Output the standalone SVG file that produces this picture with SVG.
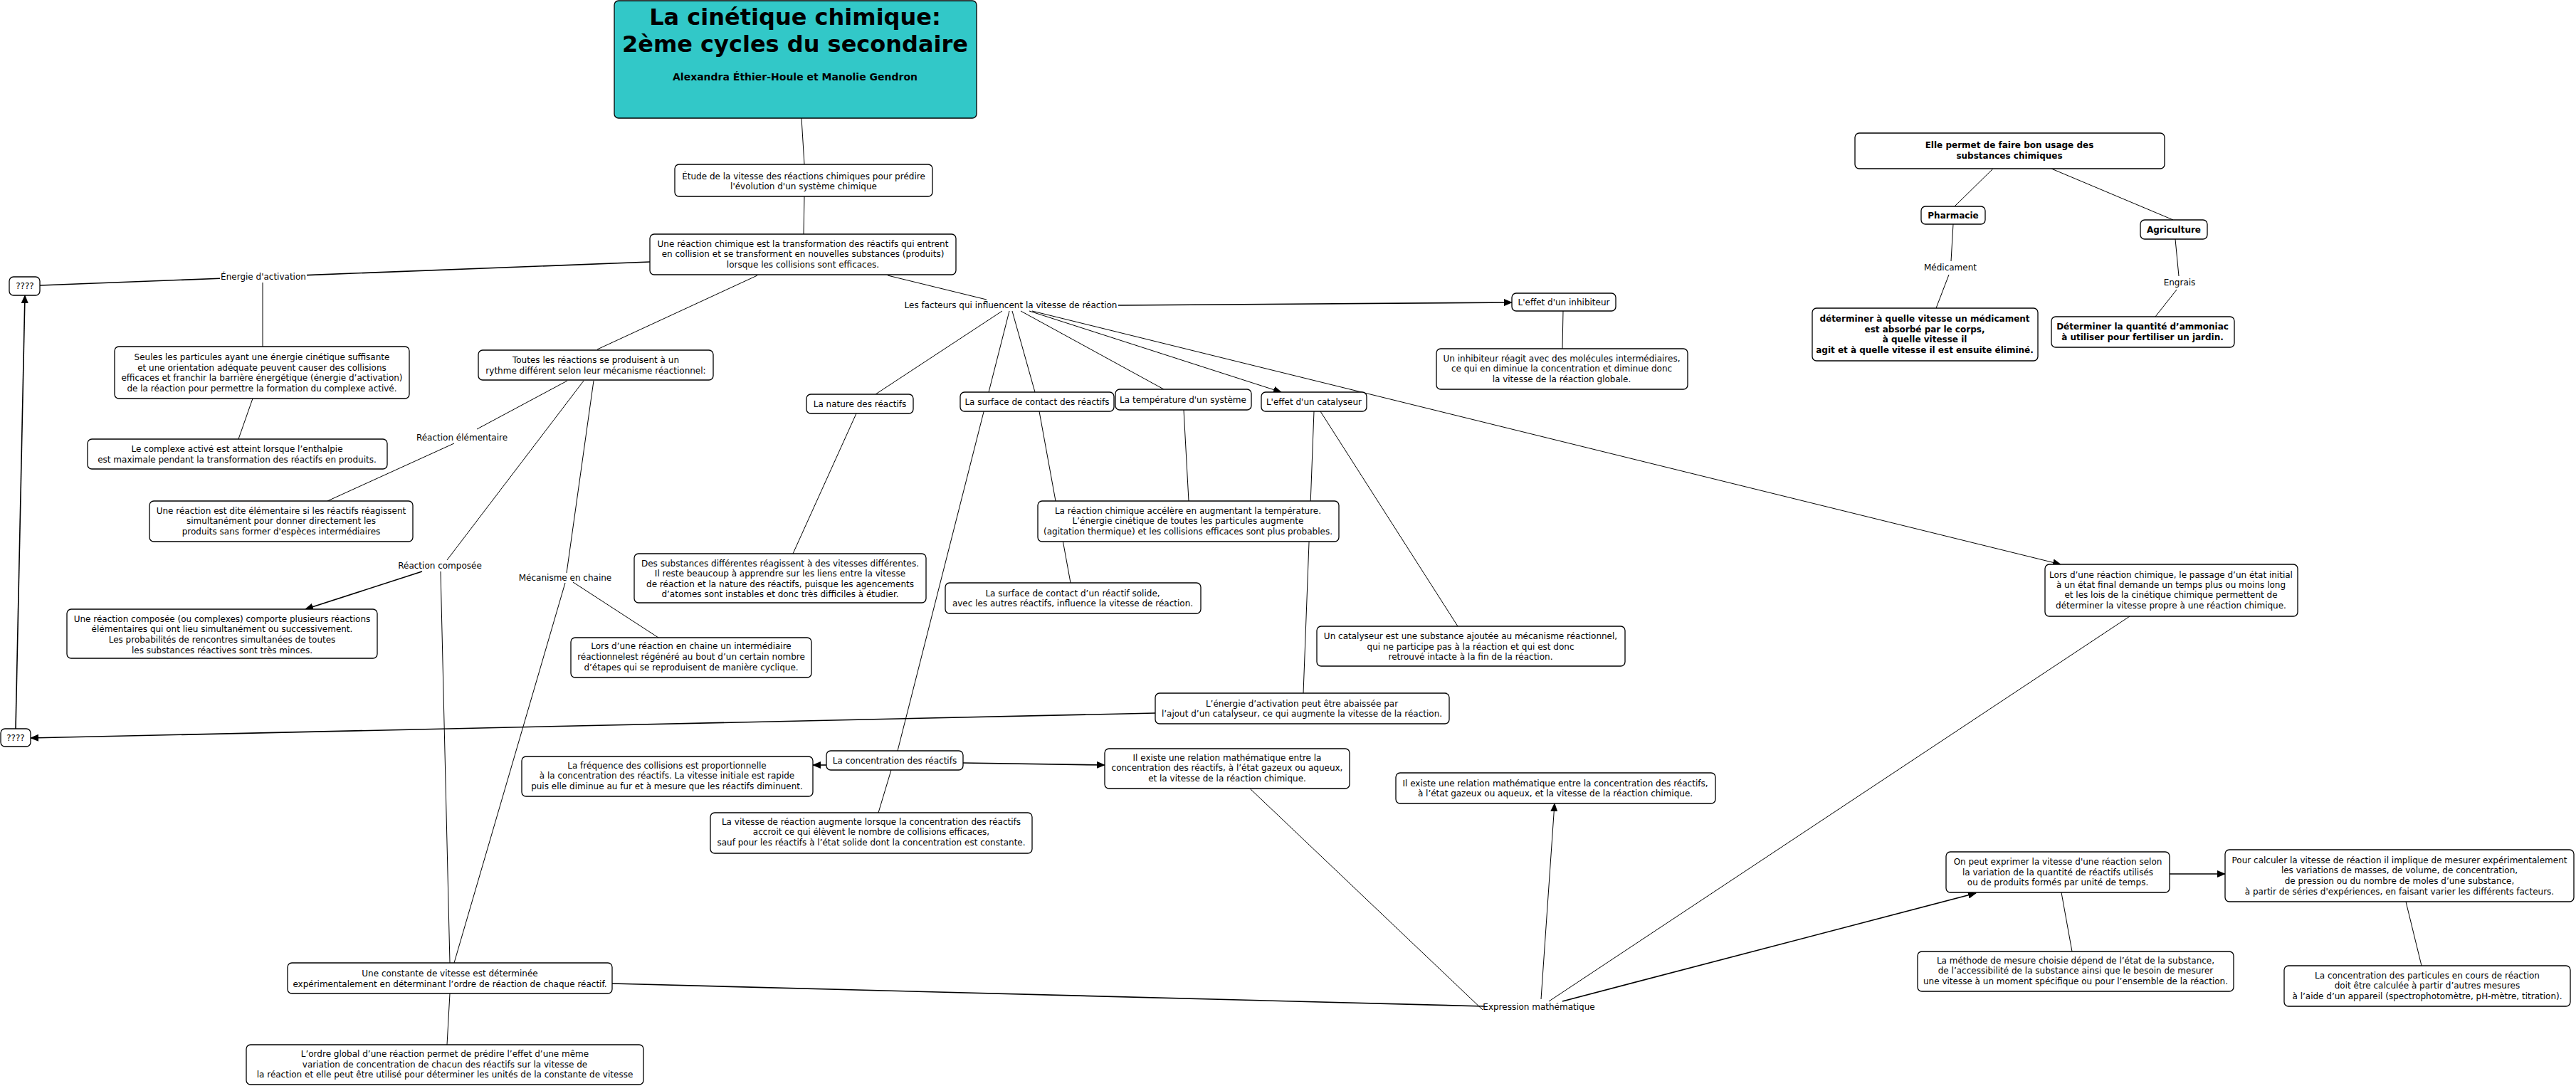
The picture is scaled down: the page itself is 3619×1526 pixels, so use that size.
<svg xmlns="http://www.w3.org/2000/svg" width="3619" height="1526" viewBox="0 0 3619 1526">
<style>
text{font-family:"DejaVu Sans",Verdana,sans-serif;font-size:12px;text-anchor:middle;fill:#000}
.b{font-weight:bold}
.n rect{fill:#fff;stroke:#000;stroke-width:1.3}
#c line{stroke:#000;stroke-width:1;fill:none}
#c line.t{stroke-width:1.6}
#c line.a{marker-end:url(#ah)}
</style>
<defs>
<marker id="ah" markerUnits="userSpaceOnUse" markerWidth="12" markerHeight="10" refX="11" refY="5" orient="auto"><path d="M0,0 L12,5 L0,10 z" fill="#000"/></marker>
</defs>
<rect width="3619" height="1526" fill="#fff"/>
<g id="c">
<line x1="1126" y1="166" x2="1130" y2="231"/>
<line x1="1130" y1="276" x2="1129" y2="329"/>
<line class="t" x1="913" y1="368" x2="431" y2="386.6"/>
<line class="t" x1="309" y1="391.2" x2="56" y2="401"/>
<line x1="369" y1="397" x2="369" y2="487"/>
<line x1="355" y1="560" x2="335" y2="617"/>
<line x1="1064" y1="387" x2="839" y2="491"/>
<line x1="797" y1="535" x2="670" y2="603"/>
<line x1="638" y1="623" x2="460" y2="704"/>
<line x1="820" y1="535" x2="628" y2="787"/>
<line class="t a" x1="593" y1="803" x2="429" y2="856"/>
<line x1="619" y1="803" x2="632" y2="1353"/>
<line x1="834" y1="535" x2="796" y2="805"/>
<line x1="794" y1="819" x2="638" y2="1353"/>
<line x1="805" y1="818" x2="925" y2="896"/>
<line x1="1247" y1="387" x2="1386" y2="421"/>
<line class="t a" x1="1571" y1="429" x2="2124" y2="425"/>
<line x1="1408" y1="437" x2="1230" y2="554"/>
<line x1="1418" y1="437" x2="1261" y2="1055"/>
<line x1="1422" y1="437" x2="1454" y2="551"/>
<line x1="1460" y1="578" x2="1504" y2="819"/>
<line x1="1434" y1="437" x2="1635" y2="547"/>
<line class="a" x1="1446" y1="437" x2="1800" y2="551"/>
<line class="a" x1="1450" y1="437" x2="2895" y2="793"/>
<line x1="2196" y1="437" x2="2195" y2="490"/>
<line x1="1663" y1="576" x2="1670" y2="704"/>
<line x1="1203" y1="581" x2="1114" y2="778"/>
<line x1="1855" y1="578" x2="2048" y2="880"/>
<line x1="1846" y1="578" x2="1831" y2="974"/>
<line class="t a" x1="1623" y1="1002" x2="43" y2="1037"/>
<line class="t a" x1="22" y1="1024" x2="35" y2="415"/>
<line class="t a" x1="1161" y1="1075" x2="1142" y2="1075"/>
<line class="t a" x1="1353" y1="1072" x2="1552" y2="1075"/>
<line x1="1252" y1="1082" x2="1234" y2="1142"/>
<line x1="1756" y1="1108" x2="2083" y2="1419"/>
<line class="t" x1="860" y1="1382" x2="2085" y2="1414"/>
<line class="a" x1="2165" y1="1404" x2="2184" y2="1129"/>
<line x1="2176" y1="1407" x2="2992" y2="866"/>
<line class="t a" x1="2195" y1="1407" x2="2776" y2="1255"/>
<line class="t a" x1="3048" y1="1228" x2="3126" y2="1228"/>
<line x1="2896" y1="1254" x2="2911" y2="1337"/>
<line x1="3380" y1="1267" x2="3402" y2="1357"/>
<line x1="632" y1="1396" x2="628" y2="1468"/>
<line x1="2800" y1="237" x2="2746" y2="290"/>
<line x1="2882" y1="237" x2="3053" y2="309"/>
<line x1="2744" y1="315" x2="2741" y2="367"/>
<line x1="2738" y1="386" x2="2720" y2="433"/>
<line x1="3056" y1="336" x2="3061" y2="388"/>
<line x1="3058" y1="407" x2="3028" y2="445"/>
</g>
<g id="labels">
<text x="370" y="393">Énergie d'activation</text>
<text x="649" y="619">Réaction élémentaire</text>
<text x="618" y="799">Réaction composée</text>
<text x="794" y="816">Mécanisme en chaine</text>
<text x="1420" y="433">Les facteurs qui influencent la vitesse de réaction</text>
<text x="2162" y="1419">Expression mathématique</text>
<text x="2740" y="380">Médicament</text>
<text x="3062" y="401">Engrais</text>
</g>
<g id="title">
<rect x="863" y="1" width="509" height="165" rx="6" fill="#32C8C8" stroke="#000" stroke-width="1.3"/>
<text class="b" x="1117" y="35" style="font-size:32px">La cinétique chimique:</text>
<text class="b" x="1117" y="73" style="font-size:32px">2ème cycles du secondaire</text>
<text class="b" x="1117" y="113" style="font-size:14px">Alexandra Éthier-Houle et Manolie Gendron</text>
</g>
<g id="etude" class="n"><rect x="948" y="231" width="362" height="45" rx="6"/>
<text x="1129" y="252">Étude de la vitesse des réactions chimiques pour prédire</text>
<text x="1129" y="266">l'évolution d'un système chimique</text></g>
<g id="reaction" class="n"><rect x="913" y="329" width="430" height="57" rx="6"/>
<text x="1128" y="347">Une réaction chimique est la transformation des réactifs qui entrent</text>
<text x="1128" y="361">en collision et se transforment en nouvelles substances (produits)</text>
<text x="1128" y="376">lorsque les collisions sont efficaces.</text></g>
<g id="q1" class="n"><rect x="13" y="389" width="43" height="26" rx="6"/><text x="35" y="406">????</text></g>
<g id="q2" class="n"><rect x="1" y="1024" width="42" height="25" rx="6"/><text x="22" y="1041">????</text></g>
<g id="seules" class="n"><rect x="161" y="487" width="414" height="73" rx="6"/>
<text x="368" y="506">Seules les particules ayant une énergie cinétique suffisante</text>
<text x="368" y="521">et une orientation adéquate peuvent causer des collisions</text>
<text x="368" y="535">efficaces et franchir la barrière énergétique (énergie d’activation)</text>
<text x="368" y="550">de la réaction pour permettre la formation du complexe activé.</text></g>
<g id="complexe" class="n"><rect x="123" y="617" width="421" height="42" rx="6"/>
<text x="333" y="635">Le complexe activé est atteint lorsque l’enthalpie</text>
<text x="333" y="650">est maximale pendant la transformation des réactifs en produits.</text></g>
<g id="toutes" class="n"><rect x="672" y="492" width="330" height="42" rx="6"/>
<text x="837" y="510">Toutes les réactions se produisent à un</text>
<text x="837" y="525">rythme différent selon leur mécanisme réactionnel:</text></g>
<g id="elementaire" class="n"><rect x="210" y="704" width="370" height="57" rx="6"/>
<text x="395" y="722">Une réaction est dite élémentaire si les réactifs réagissent</text>
<text x="395" y="736">simultanément pour donner directement les</text>
<text x="395" y="751">produits sans former d'espèces intermédiaires</text></g>
<g id="composee" class="n"><rect x="94" y="856" width="436" height="69" rx="6"/>
<text x="312" y="874">Une réaction composée (ou complexes) comporte plusieurs réactions</text>
<text x="312" y="888">élémentaires qui ont lieu simultanément ou successivement.</text>
<text x="312" y="903">Les probabilités de rencontres simultanées de toutes</text>
<text x="312" y="918">les substances réactives sont très minces.</text></g>
<g id="chaine" class="n"><rect x="802" y="896" width="338" height="56" rx="6"/>
<text x="971" y="912">Lors d’une réaction en chaine un intermédiaire</text>
<text x="971" y="927">réactionnelest régénéré au bout d’un certain nombre</text>
<text x="971" y="942">d’étapes qui se reproduisent de manière cyclique.</text></g>
<g id="nature" class="n"><rect x="1133" y="554" width="150" height="27" rx="6"/><text x="1208" y="572">La nature des réactifs</text></g>
<g id="surface" class="n"><rect x="1349" y="551" width="216" height="27" rx="6"/><text x="1457" y="569">La surface de contact des réactifs</text></g>
<g id="temperature" class="n"><rect x="1567" y="547" width="191" height="29" rx="6"/><text x="1662" y="566">La température d'un système</text></g>
<g id="catalyseur" class="n"><rect x="1772" y="551" width="148" height="27" rx="6"/><text x="1846" y="569">L'effet d'un catalyseur</text></g>
<g id="inhibiteur" class="n"><rect x="2124" y="412" width="146" height="25" rx="6"/><text x="2197" y="429">L'effet d'un inhibiteur</text></g>
<g id="inhibdesc" class="n"><rect x="2018" y="490" width="353" height="57" rx="6"/>
<text x="2194" y="508">Un inhibiteur réagit avec des molécules intermédiaires,</text>
<text x="2194" y="522">ce qui en diminue la concentration et diminue donc</text>
<text x="2194" y="537">la vitesse de la réaction globale.</text></g>
<g id="tempdesc" class="n"><rect x="1458" y="704" width="423" height="57" rx="6"/>
<text x="1669" y="722">La réaction chimique accélère en augmentant la température.</text>
<text x="1669" y="736">L’énergie cinétique de toutes les particules augmente</text>
<text x="1669" y="751">(agitation thermique) et les collisions efficaces sont plus probables.</text></g>
<g id="naturedesc" class="n"><rect x="891" y="778" width="410" height="69" rx="6"/>
<text x="1096" y="796">Des substances différentes réagissent à des vitesses différentes.</text>
<text x="1096" y="810">Il reste beaucoup à apprendre sur les liens entre la vitesse</text>
<text x="1096" y="825">de réaction et la nature des réactifs, puisque les agencements</text>
<text x="1096" y="839">d’atomes sont instables et donc très difficiles à étudier.</text></g>
<g id="surfacedesc" class="n"><rect x="1328" y="819" width="359" height="43" rx="6"/>
<text x="1507" y="838">La surface de contact d’un réactif solide,</text>
<text x="1507" y="852">avec les autres réactifs, influence la vitesse de réaction.</text></g>
<g id="catdesc" class="n"><rect x="1850" y="880" width="433" height="56" rx="6"/>
<text x="2066" y="898">Un catalyseur est une substance ajoutée au mécanisme réactionnel,</text>
<text x="2066" y="913">qui ne participe pas à la réaction et qui est donc</text>
<text x="2066" y="927">retrouvé intacte à la fin de la réaction.</text></g>
<g id="abaissee" class="n"><rect x="1623" y="974" width="413" height="43" rx="6"/>
<text x="1829" y="993">L’énergie d’activation peut être abaissée par</text>
<text x="1829" y="1007">l’ajout d’un catalyseur, ce qui augmente la vitesse de la réaction.</text></g>
<g id="concentration" class="n"><rect x="1161" y="1055" width="192" height="27" rx="6"/><text x="1257" y="1073">La concentration des réactifs</text></g>
<g id="frequence" class="n"><rect x="733" y="1063" width="409" height="56" rx="6"/>
<text x="937" y="1080">La fréquence des collisions est proportionnelle</text>
<text x="937" y="1094">à la concentration des réactifs. La vitesse initiale est rapide</text>
<text x="937" y="1109">puis elle diminue au fur et à mesure que les réactifs diminuent.</text></g>
<g id="vitessedesc" class="n"><rect x="998" y="1142" width="452" height="57" rx="6"/>
<text x="1224" y="1159">La vitesse de réaction augmente lorsque la concentration des réactifs</text>
<text x="1224" y="1173">accroit ce qui élèvent le nombre de collisions efficaces,</text>
<text x="1224" y="1188">sauf pour les réactifs à l’état solide dont la concentration est constante.</text></g>
<g id="existe1" class="n"><rect x="1552" y="1052" width="344" height="56" rx="6"/>
<text x="1724" y="1069">Il existe une relation mathématique entre la</text>
<text x="1724" y="1083">concentration des réactifs, à l’état gazeux ou aqueux,</text>
<text x="1724" y="1098">et la vitesse de la réaction chimique.</text></g>
<g id="existe2" class="n"><rect x="1961" y="1086" width="449" height="43" rx="6"/>
<text x="2185" y="1105">Il existe une relation mathématique entre la concentration des réactifs,</text>
<text x="2185" y="1119">à l’état gazeux ou aqueux, et la vitesse de la réaction chimique.</text></g>
<g id="lors" class="n"><rect x="2873" y="793" width="355" height="73" rx="6"/>
<text x="3050" y="812">Lors d’une réaction chimique, le passage d’un état initial</text>
<text x="3050" y="826">à un état final demande un temps plus ou moins long</text>
<text x="3050" y="840">et les lois de la cinétique chimique permettent de</text>
<text x="3050" y="855">déterminer la vitesse propre à une réaction chimique.</text></g>
<g id="elle" class="n"><rect x="2606" y="187" width="435" height="50" rx="6"/>
<text class="b" x="2823" y="208">Elle permet de faire bon usage des</text>
<text class="b" x="2823" y="223">substances chimiques</text></g>
<g id="pharmacie" class="n"><rect x="2699" y="290" width="90" height="25" rx="6"/><text class="b" x="2744" y="307">Pharmacie</text></g>
<g id="agriculture" class="n"><rect x="3007" y="309" width="94" height="27" rx="6"/><text class="b" x="3054" y="327">Agriculture</text></g>
<g id="medicdesc" class="n"><rect x="2546" y="433" width="317" height="74" rx="6"/>
<text class="b" x="2704" y="452">déterminer à quelle vitesse un médicament</text>
<text class="b" x="2704" y="467">est absorbé par le corps,</text>
<text class="b" x="2704" y="481">à quelle vitesse il</text>
<text class="b" x="2704" y="496">agit et à quelle vitesse il est ensuite éliminé.</text></g>
<g id="engraisdesc" class="n"><rect x="2882" y="445" width="257" height="43" rx="6"/>
<text class="b" x="3010" y="463">Déterminer la quantité d’ammoniac</text>
<text class="b" x="3010" y="478">à utiliser pour fertiliser un jardin.</text></g>
<g id="onpeut" class="n"><rect x="2734" y="1197" width="314" height="57" rx="6"/>
<text x="2891" y="1215">On peut exprimer la vitesse d'une réaction selon</text>
<text x="2891" y="1230">la variation de la quantité de réactifs utilisés</text>
<text x="2891" y="1244">ou de produits formés par unité de temps.</text></g>
<g id="calculer" class="n"><rect x="3126" y="1194" width="490" height="73" rx="6"/>
<text x="3371" y="1213">Pour calculer la vitesse de réaction il implique de mesurer expérimentalement</text>
<text x="3371" y="1227">les variations de masses, de volume, de concentration,</text>
<text x="3371" y="1242">de pression ou du nombre de moles d’une substance,</text>
<text x="3371" y="1257">à partir de séries d'expériences, en faisant varier les différents facteurs.</text></g>
<g id="methode" class="n"><rect x="2694" y="1337" width="444" height="56" rx="6"/>
<text x="2916" y="1354">La méthode de mesure choisie dépend de l’état de la substance,</text>
<text x="2916" y="1368">de l’accessibilité de la substance ainsi que le besoin de mesurer</text>
<text x="2916" y="1383">une vitesse à un moment spécifique ou pour l’ensemble de la réaction.</text></g>
<g id="particules" class="n"><rect x="3209" y="1357" width="402" height="57" rx="6"/>
<text x="3410" y="1375">La concentration des particules en cours de réaction</text>
<text x="3410" y="1389">doit être calculée à partir d’autres mesures</text>
<text x="3410" y="1404">à l’aide d’un appareil (spectrophotomètre, pH-mètre, titration).</text></g>
<g id="constante" class="n"><rect x="404" y="1353" width="456" height="43" rx="6"/>
<text x="632" y="1372">Une constante de vitesse est déterminée</text>
<text x="632" y="1387">expérimentalement en déterminant l’ordre de réaction de chaque réactif.</text></g>
<g id="ordre" class="n"><rect x="346" y="1468" width="558" height="56" rx="6"/>
<text x="625" y="1485">L’ordre global d’une réaction permet de prédire l’effet d’une même</text>
<text x="625" y="1500">variation de concentration de chacun des réactifs sur la vitesse de</text>
<text x="625" y="1514">la réaction et elle peut être utilisé pour déterminer les unités de la constante de vitesse</text></g>
</svg>
